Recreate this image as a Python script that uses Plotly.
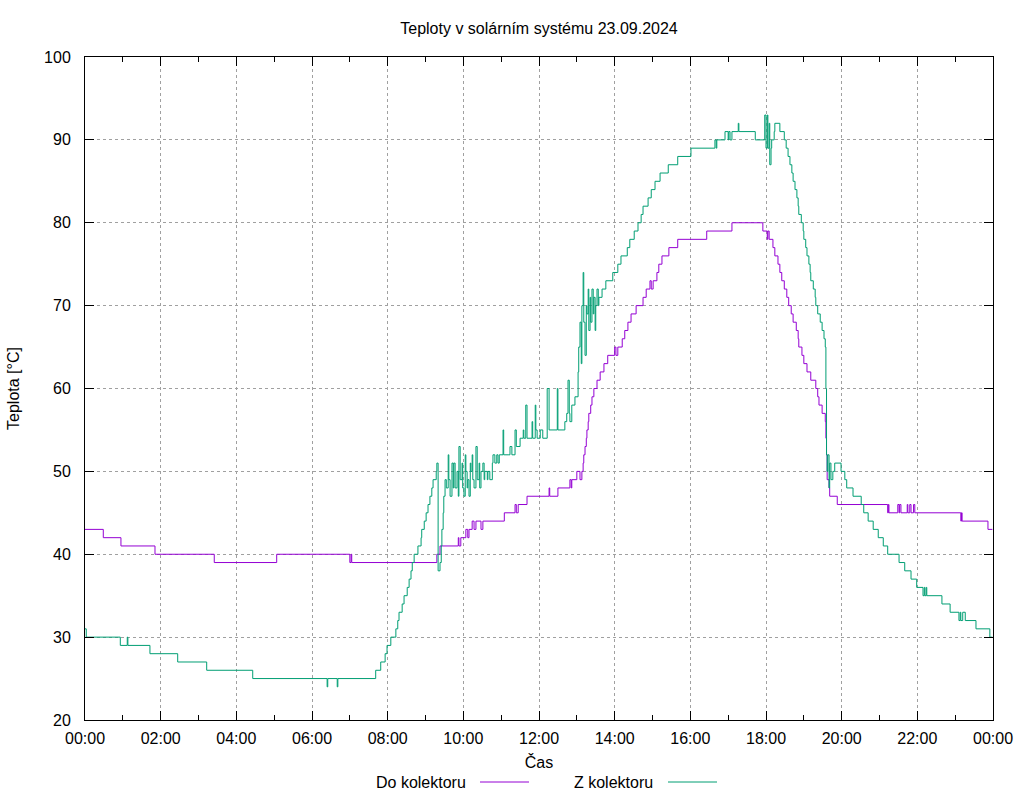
import plotly.graph_objects as go
import pandas as pd

DATE = "2024-09-23"
TITLE = "Teploty v solárním systému 23.09.2024"
X_TITLE = "Čas"
Y_TITLE = "Teplota [°C]"
SERIES_NAMES = ["Do kolektoru", "Z kolektoru"]
COLORS = ["#9400D3", "#009E73"]
Y_TICKS = [20, 30, 40, 50, 60, 70, 80, 90, 100]

# Do kolektoru (step changes: time, value)
do_t = ["00:00", "00:29", "00:57", "01:51", "03:25", "05:04", "07:00", "07:02", "07:03",
        "09:18", "09:23", "09:52", "09:53", "09:56", "10:04", "10:07", "10:09", "10:14",
        "10:17", "10:20", "10:28", "10:31", "11:05", "11:22", "11:24", "11:27", "11:41",
        "12:16", "12:17", "12:30", "12:49", "12:51", "12:52", "13:00", "13:05", "13:08",
        "13:10", "13:11", "13:13", "13:15", "13:16", "13:18", "13:19", "13:22", "13:24",
        "13:27", "13:32", "13:37", "13:43", "13:49", "14:00", "14:02", "14:05", "14:12",
        "14:16", "14:21", "14:26", "14:34", "14:45", "14:50", "14:56", "14:58", "15:01",
        "15:07", "15:10", "15:15", "15:26", "15:40", "16:26", "17:06", "17:55", "18:02",
        "18:03", "18:05", "18:11", "18:14", "18:19", "18:22", "18:25", "18:29", "18:33",
        "18:36", "18:40", "18:43", "18:48", "18:51", "18:52", "18:57", "19:00", "19:05",
        "19:11", "19:19", "19:22", "19:24", "19:29", "19:34", "19:35", "19:36", "19:37",
        "19:40", "19:41", "19:53", "21:13", "21:14", "21:15", "21:29", "21:31", "21:32",
        "21:34", "21:44", "21:45", "21:48", "21:50", "21:54", "21:56", "23:09", "23:10",
        "23:11", "23:52", "23:59"]
do_v = [43, 42, 41, 40, 39, 40, 39, 40, 39,
        40, 41, 42, 41, 42, 43, 42, 43, 44,
        43, 44, 43, 44, 45, 46, 45, 46, 47,
        48, 47, 48, 49, 48, 49, 50, 49, 50,
        51, 52, 53, 54, 55, 56, 57, 58, 59,
        60, 61, 62, 63, 64, 65, 64, 65, 66,
        67, 68, 69, 70, 71, 72, 73, 72, 73,
        74, 75, 76, 77, 78, 79, 80, 79, 78,
        79, 78, 77, 76, 75, 74, 73, 72, 71,
        70, 69, 68, 67, 66, 65, 64, 63, 62,
        61, 60, 59, 58, 57, 56, 54, 52, 49,
        48, 47, 46, 45, 46, 45, 46, 45, 46,
        45, 46, 45, 46, 45, 46, 45, 44, 45,
        44, 43, 43]

# Z kolektoru (step changes: time, value)
z_t = ["00:00", "00:02", "00:56", "01:07", "01:08", "01:43", "02:27", "03:13", "04:26",
       "06:24", "06:25", "06:40", "06:41", "07:41", "07:49", "07:56", "07:59", "08:05",
       "08:13", "08:16", "08:18", "08:23", "08:26", "08:31", "08:34", "08:37", "08:39",
       "08:42", "08:48", "08:53", "08:54", "08:58", "09:01", "09:04", "09:07", "09:10",
       "09:12", "09:17", "09:18", "09:20", "09:23", "09:25", "09:26", "09:28", "09:29",
       "09:31", "09:33", "09:36", "09:37", "09:39", "09:42", "09:44", "09:45", "09:47",
       "09:50", "09:52", "09:53", "09:55", "09:58", "09:59", "10:01", "10:03", "10:04",
       "10:06", "10:07", "10:09", "10:11", "10:12", "10:14", "10:15", "10:17", "10:20",
       "10:22", "10:25", "10:26", "10:28", "10:31", "10:33", "10:34", "10:38", "10:39",
       "10:42", "10:46", "10:47", "10:50", "10:53", "10:55", "10:57", "11:03", "11:04",
       "11:11", "11:14", "11:17", "11:22", "11:24", "11:30", "11:35", "11:36", "11:39",
       "11:41", "11:49", "11:50", "11:54", "11:55", "11:57", "12:02", "12:06", "12:13",
       "12:16", "12:29", "12:30", "12:41", "12:44", "12:46", "12:48", "12:49", "12:52",
       "12:57", "13:02", "13:03", "13:05", "13:07", "13:08", "13:10", "13:11", "13:13",
       "13:15", "13:16", "13:18", "13:19", "13:21", "13:22", "13:24", "13:26", "13:27",
       "13:29", "13:30", "13:32", "13:34", "13:35", "13:40", "13:46", "13:57", "14:05",
       "14:10", "14:20", "14:24", "14:31", "14:37", "14:42", "14:45", "14:53", "14:58",
       "15:04", "15:12", "15:25", "15:40", "16:01", "16:39", "16:41", "16:42", "16:55",
       "17:00", "17:01", "17:03", "17:06", "17:16", "17:17", "17:43", "17:58", "18:00",
       "18:02", "18:03", "18:05", "18:06", "18:08", "18:09", "18:13", "18:14", "18:22",
       "18:29", "18:32", "18:35", "18:38", "18:41", "18:43", "18:46", "18:49", "18:51",
       "18:52", "18:56", "18:59", "19:00", "19:03", "19:05", "19:08", "19:10", "19:11",
       "19:15", "19:18", "19:19", "19:22", "19:26", "19:29", "19:32", "19:34", "19:35",
       "19:36", "19:37", "19:38", "19:40", "19:41", "19:43", "19:46", "19:49", "19:59",
       "20:05", "20:08", "20:18", "20:31", "20:35", "20:42", "20:50", "20:58", "21:06",
       "21:13", "21:31", "21:40", "21:50", "21:59", "22:09", "22:11", "22:12", "22:14",
       "22:15", "22:39", "22:52", "23:06", "23:08", "23:09", "23:12", "23:16", "23:33",
       "23:55", "23:59"]
z_v = [31, 30, 29, 30, 29, 28, 27, 26, 25,
       24, 25, 24, 25, 26, 27, 28, 29, 30,
       31, 32, 33, 34, 35, 36, 37, 38, 39,
       40, 41, 42, 43, 44, 45, 46, 47, 48,
       49, 50, 51, 38, 39, 41, 43, 45, 47,
       49, 48, 52, 49, 47, 51, 48, 51, 48,
       50, 47, 53, 49, 51, 48, 47, 52, 50,
       48, 49, 47, 51, 50, 52, 49, 48, 53,
       49, 51, 48, 50, 51, 49, 50, 49, 50,
       49, 51, 52, 51, 52, 51, 52, 55, 52,
       52, 53, 52, 55, 53, 54, 55, 54, 58,
       54, 56, 54, 58, 55, 54, 55, 54, 60,
       55, 60, 55, 56, 57, 61, 57, 56, 58,
       59, 62, 65, 68, 63, 70, 74, 68, 64,
       70, 69, 72, 67, 71, 68, 72, 69, 71,
       67, 70, 72, 70, 71, 72, 73, 74, 75,
       76, 77, 78, 79, 80, 81, 82, 83, 84,
       85, 86, 87, 88, 89, 90, 89, 90, 91,
       90, 91, 90, 91, 92, 91, 90, 93, 89,
       93, 89, 92, 87, 89, 90, 91, 92, 91,
       90, 89, 88, 87, 86, 85, 84, 83, 82,
       81, 80, 79, 78, 77, 76, 75, 74, 73,
       72, 71, 70, 69, 68, 67, 66, 65, 60,
       52, 50, 52, 48, 51, 49, 50, 51, 50,
       49, 48, 47, 46, 45, 44, 43, 42, 41,
       40, 39, 38, 37, 36, 35, 36, 35, 36,
       35, 34, 33, 32, 33, 32, 33, 32, 31,
       30, 30]


def to_dt(times):
    return pd.to_datetime([f"{DATE} {t}" for t in times])


fig = go.Figure()
for name, color, tt, vv in [(SERIES_NAMES[0], COLORS[0], do_t, do_v),
                            (SERIES_NAMES[1], COLORS[1], z_t, z_v)]:
    fig.add_trace(go.Scatter(x=to_dt(tt), y=vv, mode="lines", name=name,
                             line=dict(color=color, width=1, shape="hv"),
                             showlegend=False))

FONT = "Liberation Sans, Arial, sans-serif"
fig.update_layout(
    width=1024, height=800,
    margin=dict(l=85, r=31, t=57, b=80),
    plot_bgcolor="white", paper_bgcolor="white",
    font=dict(family=FONT, size=16, color="black"),
    title=dict(text=TITLE, x=0.5, xref="paper", xanchor="center",
               y=1 - 28 / 800, yref="container", yanchor="middle",
               font=dict(size=16)),
)

fig.update_xaxes(
    type="date", automargin=False,
    range=[f"{DATE} 00:00", "2024-09-24 00:00"],
    tick0=f"{DATE} 00:00", dtick=2 * 3600 * 1000, tickformat="%H:%M",
    ticks="inside", ticklen=9, tickwidth=1, tickcolor="black",
    showline=True, linecolor="black", linewidth=1, mirror="ticks",
    showgrid=True, gridcolor="#a0a0a0", gridwidth=1, griddash="dot",
    zeroline=False, ticklabelstandoff=4, tickfont=dict(size=16),
    minor=dict(dtick=3600 * 1000, ticks="inside", ticklen=5, tickcolor="black",
               showgrid=False),
    title=dict(text=X_TITLE, standoff=10, font=dict(size=16)),
)
fig.update_yaxes(
    range=[20, 100], tickvals=Y_TICKS, automargin=False,
    ticks="inside", ticklen=9, tickwidth=1, tickcolor="black",
    showline=True, linecolor="black", linewidth=1, mirror="ticks",
    showgrid=True, gridcolor="#a0a0a0", gridwidth=1, griddash="dot",
    zeroline=False, ticklabelstandoff=10, tickfont=dict(size=16),
    title=dict(text=Y_TITLE, standoff=20, font=dict(size=16)),
)

# gnuplot-style key below the plot: label followed by line sample
key_y = -62 / 663
key_items = [(SERIES_NAMES[0], COLORS[0], 383 / 908, 395 / 908, 444 / 908),
             (SERIES_NAMES[1], COLORS[1], 570 / 908, 583 / 908, 632 / 908)]
for name, color, tx, lx0, lx1 in key_items:
    fig.add_annotation(text=name, x=tx, y=key_y, xref="paper", yref="paper",
                       xanchor="right", yanchor="middle", showarrow=False,
                       font=dict(size=16))
    fig.add_shape(type="line", xref="paper", yref="paper", x0=lx0, x1=lx1,
                  y0=key_y, y1=key_y, line=dict(color=color, width=1))

fig.write_html("out.html", config={"displayModeBar": False},
               post_script="document.body.style.margin='0';")
